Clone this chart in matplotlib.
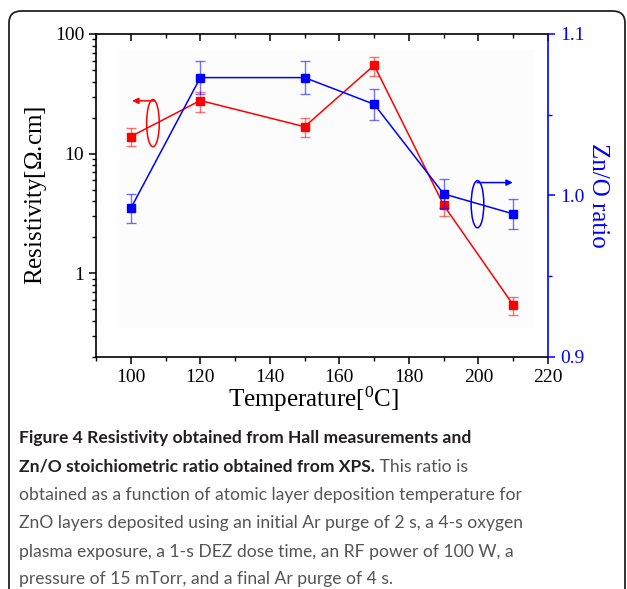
import matplotlib
matplotlib.use('Agg')
from matplotlib import pyplot as plt
from matplotlib.patches import Ellipse, FancyBboxPatch, Rectangle
from matplotlib.ticker import FixedLocator, FuncFormatter, MultipleLocator

# data
temps = [100, 120, 150, 170, 190, 210]
resistivity = [13.9, 27.8, 16.8, 54.8, 3.71, 0.544]
res_err_up = [2.6, 5.2, 3.0, 9.9, 0.69, 0.096]
res_err_dn = [2.2, 5.3, 3.0, 10.1, 0.67, 0.097]
zno_ratio = [0.992, 1.073, 1.073, 1.0565, 1.001, 0.9886]
zno_err = [0.009, 0.010, 0.010, 0.0095, 0.009, 0.0095]

x_ticks = [100, 120, 140, 160, 180, 200, 220]
res_ticks = [1, 10, 100]
ratio_ticks = [0.9, 1.0, 1.1]

caption_bold_1 = 'Figure 4 Resistivity obtained from Hall measurements and'
caption_bold_2 = 'Zn/O stoichiometric ratio obtained from XPS.'
caption_rest_2 = ' This ratio is'
caption_lines = [
    'obtained as a function of atomic layer deposition temperature for',
    'ZnO layers deposited using an initial Ar purge of 2 s, a 4-s oxygen',
    'plasma exposure, a 1-s DEZ dose time, an RF power of 100 W, a',
    'pressure of 15 mTorr, and a final Ar purge of 4 s.',
]

plt.rcParams['font.family'] = ['Liberation Serif', 'DejaVu Serif']
plt.rcParams['mathtext.fontset'] = 'custom'
plt.rcParams['mathtext.rm'] = 'Liberation Serif'
plt.rcParams['mathtext.it'] = 'Liberation Serif:italic'

red = '#ff0000'
blue = '#0000ff'

fig = plt.figure(figsize=(6.27, 5.89), dpi=100)

# rounded frame round the whole figure + caption (open at the bottom)
frame = FancyBboxPatch((9 / 627, -0.1), 616 / 627, (589 - 11) / 589 + 0.1,
                       boxstyle='round,pad=0,rounding_size=0.02',
                       transform=fig.transFigure, fill=False,
                       edgecolor='#222222', linewidth=1.3)
fig.patches.append(frame)

ax = fig.add_axes([0.1531, 0.3939, 0.7209, 0.5484])
ax.add_patch(Rectangle((0.05, 0.09), 0.92, 0.86, transform=ax.transAxes,
                       facecolor='#fcfcfc', edgecolor='none', zorder=0))

# resistivity (left, log)
ax.errorbar(temps, resistivity, yerr=[res_err_dn, res_err_up], fmt='none',
            ecolor=red, alpha=0.55, elinewidth=1.0, capsize=3.5, capthick=1.0)
ax.plot(temps, resistivity, color=red, marker='s', markersize=5.5, linewidth=1.1)
ax.set_yscale('log')
ax.set_ylim(0.2, 100)
ax.set_xlim(90, 220)
ax.yaxis.set_major_locator(FixedLocator(res_ticks))
ax.yaxis.set_major_formatter(FuncFormatter(lambda v, p: '%g' % v))
ax.xaxis.set_major_locator(FixedLocator(x_ticks))
ax.xaxis.set_minor_locator(MultipleLocator(10))
ax.tick_params(axis='both', which='major', labelsize=14, length=5, width=1.1, direction='out')
ax.tick_params(axis='both', which='minor', length=3, width=1.0, direction='out')
ax.tick_params(axis='x', which='both', top=True, labeltop=False)
ax.set_ylabel(r'Resistivity[$\Omega$.cm]', fontsize=18, labelpad=4)
ax.set_xlabel(r'Temperature[$^{0}$C]', fontsize=18, labelpad=1)
ax.xaxis.set_label_coords(0.48, -0.085)
for s in ['left', 'bottom', 'top']:
    ax.spines[s].set_linewidth(1.2)
ax.spines['right'].set_visible(False)

# top ticks pointing in
for t in ax.xaxis.get_major_ticks() + ax.xaxis.get_minor_ticks():
    t.tick2line.set_marker(3)

# Zn/O ratio (right, linear)
ax2 = ax.twinx()
ax2.errorbar(temps, zno_ratio, yerr=zno_err, fmt='none', ecolor=blue, alpha=0.55,
             elinewidth=1.0, capsize=3.5, capthick=1.0)
ax2.plot(temps, zno_ratio, color=blue, marker='s', markersize=5.5, linewidth=1.1)
ax2.set_ylim(0.9, 1.1)
ax2.yaxis.set_major_locator(FixedLocator(ratio_ticks))
ax2.yaxis.set_minor_locator(MultipleLocator(0.05))
ax2.yaxis.set_major_formatter(FuncFormatter(lambda v, p: '%.1f' % v))
ax2.tick_params(axis='y', which='major', labelsize=14, length=5, width=1.1,
                colors=blue, direction='out')
ax2.tick_params(axis='y', which='minor', length=3, width=1.0, colors=blue, direction='out')
for s in ['left', 'bottom', 'top']:
    ax2.spines[s].set_visible(False)
ax2.spines['right'].set_color(blue)
ax2.spines['right'].set_linewidth(1.2)
ax2.set_ylabel('Zn/O ratio', fontsize=18, color=blue, rotation=270, labelpad=18)

# ellipse + arrow markers telling which axis belongs to which curve
ax.add_patch(Ellipse((0.126, 0.724), 0.028, 0.146, transform=ax.transAxes,
                     fill=False, edgecolor=red, linewidth=1.1, zorder=5))
ax.annotate('', xy=(0.080, 0.793), xytext=(0.130, 0.793), xycoords='axes fraction',
            arrowprops=dict(arrowstyle='-|>', color=red, lw=1.1, mutation_scale=9,
                            shrinkA=0, shrinkB=0))
ax.add_patch(Ellipse((0.844, 0.473), 0.028, 0.146, transform=ax.transAxes,
                     fill=False, edgecolor=blue, linewidth=1.1, zorder=5))
ax.annotate('', xy=(0.922, 0.540), xytext=(0.843, 0.540), xycoords='axes fraction',
            arrowprops=dict(arrowstyle='-|>', color=blue, lw=1.1, mutation_scale=9,
                            shrinkA=0, shrinkB=0))

# caption
cap_font = ['Lato', 'DejaVu Sans']
cap_size = 12.6
x0 = 19 / 627
line_y = [438, 467, 495, 523, 552, 579]
fig.text(x0, 1 - line_y[0] / 589, caption_bold_1, family=cap_font, fontsize=cap_size,
         fontweight='bold', color='#231f20', va='center')
tb = fig.text(x0, 1 - line_y[1] / 589, caption_bold_2, family=cap_font, fontsize=cap_size,
              fontweight='bold', color='#231f20', va='center')
fig.canvas.draw()
ext = tb.get_window_extent()
fig.text(ext.x1 / fig.bbox.width, 1 - line_y[1] / 589, caption_rest_2, family=cap_font,
         fontsize=cap_size, color='#555555', va='center')
for txt, yy in zip(caption_lines, line_y[2:]):
    fig.text(x0, 1 - yy / 589, txt, family=cap_font, fontsize=cap_size, color='#555555',
             va='center')

plt.savefig('out.png', dpi=100)
